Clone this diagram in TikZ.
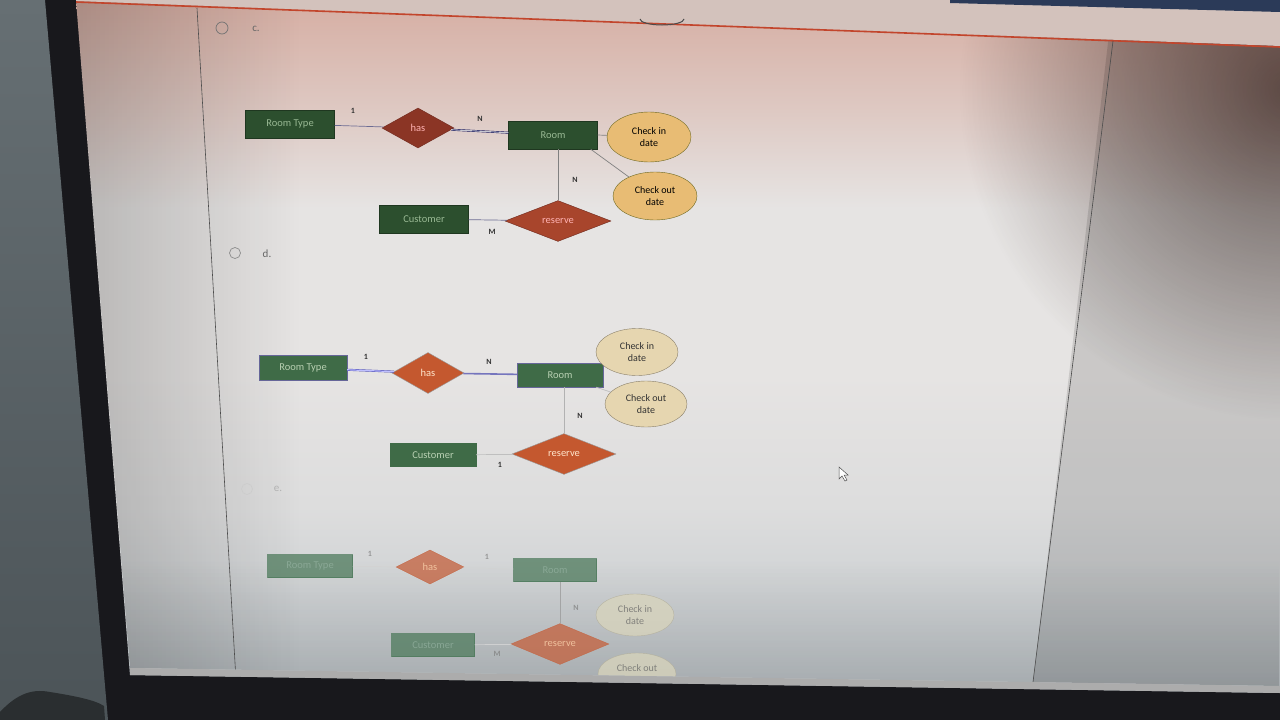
\documentclass[tikz,border=0pt]{standalone}
\usepackage{fontspec}
\setmainfont{Carlito}
\usetikzlibrary{shapes,positioning,fadings}

\definecolor{wallC}{HTML}{666F73}
\definecolor{wallD}{HTML}{4C5458}
\definecolor{bezelC}{HTML}{18181C}
\definecolor{barC}{HTML}{D3C2BC}
\definecolor{blueC}{HTML}{2B3A58}
\definecolor{redC}{HTML}{C2452C}
\definecolor{pageTop}{HTML}{D6AEA3}
\definecolor{pageMid}{HTML}{E6E4E3}
\definecolor{pageBot}{HTML}{BFC6CA}
\colorlet{pageLow}{pageMid!75!pageBot}
\colorlet{pageHigh}{pageMid!50!pageTop}
\definecolor{shadeR}{HTML}{3A2520}
\definecolor{entC}{HTML}{2C4F2E}
\definecolor{entCt}{HTML}{98B893}
\definecolor{entD}{HTML}{3F6B47}
\definecolor{entDt}{HTML}{B8D0B2}
\definecolor{entE}{HTML}{4E7A5C}
\definecolor{entEt}{HTML}{93B09F}
\definecolor{relC}{HTML}{8B3525}
\definecolor{relCr}{HTML}{A8452C}
\definecolor{relD}{HTML}{C4582F}
\definecolor{relE}{HTML}{C4603C}
\definecolor{attC}{HTML}{E8BC74}
\definecolor{attD}{HTML}{E6D6B0}
\definecolor{attE}{HTML}{D9D5BC}

\pgfdeclareverticalshading{pagefade}{100bp}{color(0bp)=(pageBot); color(25bp)=(pageBot);
  color(38bp)=(pageLow); color(48bp)=(pageMid); color(60bp)=(pageMid);
  color(67bp)=(pageHigh); color(75bp)=(pageTop); color(100bp)=(pageTop)}
\tikzfading[name=fade glow, inner color=transparent!0, outer color=transparent!100]
\tikzfading[name=fade down, top color=transparent!100, bottom color=transparent!0]
\tikzfading[name=fade left, left color=transparent!0, right color=transparent!100]

\tikzset{
  basic/.style  = {draw, font=\fontsize{10.5}{11}\selectfont, inner sep=1pt},
  entity/.style = {basic, rectangle, minimum width=89pt, minimum height=28pt},
  rel/.style    = {basic, diamond, minimum width=72pt, minimum height=40pt},
  attr/.style   = {basic, ellipse, align=center, minimum width=84pt,
                   minimum height=50pt, font=\fontsize{10}{12}\selectfont},
  ent c/.style  = {entity, fill=entC, draw=entC!70!black, text=entCt},
  ent d/.style  = {entity, fill=entD, draw=blue!20!gray, text=entDt,
                   minimum width=88pt, minimum height=25pt},
  ent e/.style  = {entity, fill=entE, draw=entE, text=entEt,
                   minimum width=85pt, minimum height=23pt},
  rel c/.style  = {rel, fill=relC, draw=relC!80!black, text=red!30!white},
  rel d/.style  = {rel, fill=relD, draw=gray!80, text=orange!20!white},
  rel e/.style  = {rel, fill=relE, draw=relE, text=orange!30!white},
  att c/.style  = {attr, fill=attC, draw=olive!70!black, text=black},
  att d/.style  = {attr, fill=attD, draw=attD!60!black, text=black!80,
                   minimum width=82pt, minimum height=47pt},
  att e/.style  = {attr, fill=attE, draw=attE!80!black, text=black!60,
                   minimum width=78pt, minimum height=42pt},
  card/.style   = {font=\fontsize{8}{8}\selectfont\bfseries, text=black!80, inner sep=0pt},
  opt/.style    = {font=\fontsize{11}{12}\selectfont, text=black!60, inner sep=0pt},
  link/.style   = {draw=blue!15!gray, line width=0.7pt}
}

\begin{document}
\begin{tikzpicture}[x=1pt,y=-1pt]
\useasboundingbox (0,0) rectangle (1280,720);

% wall, bezel and screen
\fill[bezelC] (0,0) rectangle (1280,720);
\shade[top color=wallC, bottom color=wallD] (0,0) -- (45,0) -- (108,720) -- (0,720) -- cycle;
\fill[black!45!wallD] (0,712) .. controls (15,696) and (30,688) .. (50,692)
  .. controls (75,696) and (95,700) .. (104,706) -- (105,720) -- (0,720) -- cycle;
\shade[shading=pagefade] (76,0) -- (1280,0) -- (1280,693) -- (130,675) -- cycle;
\begin{scope}
\clip (76,0) -- (1280,0) -- (1280,686) -- (130,668) -- cycle;
\fill[shadeR, opacity=.7, path fading=fade glow] (1290,90) circle (330pt);
\fill[black, opacity=.15, path fading=fade down] (76,560) rectangle (1280,700);
\fill[black, opacity=.2, path fading=fade left] (76,0) rectangle (300,700);
\fill[black, opacity=.12] (1113,0) -- (1280,0) -- (1280,697) -- (1032,690) -- cycle;
\fill[barC] (76,0) -- (1280,0) -- (1280,46) -- (76,1) -- cycle;
\fill[blueC] (950,0) -- (1280,0) -- (1280,12) -- (950,3) -- cycle;
\draw[redC, line width=1.6pt] (76,2) -- (1280,47);
\draw[black!70, line width=0.6pt] (197,8) -- (236,680);
\draw[black!70, line width=0.6pt] (1113,41) -- (1032,690);
\draw[black!70, line width=1pt] (640,19) arc[start angle=180, end angle=360, x radius=22pt, y radius=6pt];

% options
\draw[black!55, line width=0.7pt] (222,28) circle (6pt);
\draw[black!45, line width=0.7pt] (235,253) circle (5.5pt);
\draw[black!20, line width=0.7pt] (247,489) circle (5.5pt);
\node[opt] (optc) at (256,29) {c.};
\node[opt] (optd) at (267,254) {d.};
\node[opt, text=black!30] (opte) at (278,489) {e.};

% c. diagram
\node[ent c] (rtc) at (290,124) {Room Type};
\node[rel c, right of=rtc, node distance=128pt, yshift=-4pt] (hasc) {has};
\node[ent c, right of=hasc, node distance=135pt, yshift=-7pt] (roomc) {Room};
\node[att c, right of=roomc, node distance=96pt, yshift=-2pt] (cinc) {Check in\\date};
\node[att c, below of=cinc, node distance=59pt, xshift=6pt, minimum height=48pt] (coutc) {Check out\\date};
\node[rel c, fill=relCr, below of=roomc, node distance=86pt, xshift=5pt,
      minimum width=106pt, minimum height=38pt] (resc) {reserve};
\node[ent c, left of=resc, node distance=134pt, yshift=2pt] (custc) {Customer};

\draw[link] (rtc) -- (hasc);
\draw[double=blue!10!gray!40, draw=blue!30!black, double distance=1.1pt] (hasc) -- (roomc);
\draw[link, draw=gray] (roomc.east) -- (cinc);
\draw[link, draw=gray] ([xshift=-7pt]roomc.south east) -- (coutc);
\draw[link, draw=gray] (roomc.south -| resc.north) -- (resc.north);
\draw[link] (custc) -- (resc);

\node[card] (c1) at (353,111) {1};
\node[card] (c2) at (480,119) {N};
\node[card] (c3) at (575,180) {N};
\node[card] (c4) at (492,232) {M};

% d. diagram
\node[ent d] (rtd) at (303,368) {Room Type};
\node[rel d, right of=rtd, node distance=125pt, yshift=-5pt, minimum height=41pt] (hasd) {has};
\node[ent d, right of=hasd, node distance=132pt, yshift=-2pt, minimum width=86pt, minimum height=24pt] (roomd) {Room};
\node[att d, right of=roomd, node distance=77pt, yshift=23pt] (cind) {Check in\\date};
\node[att d, below of=cind, node distance=52pt, xshift=9pt, minimum height=46pt] (coutd) {Check out\\date};
\node[rel d, below of=roomd, node distance=79pt, xshift=4pt,
      minimum width=104pt, minimum height=36pt] (resd) {reserve};
\node[ent d, left of=resd, node distance=131pt, yshift=-1pt, minimum width=86pt,
      minimum height=23pt, draw=entD] (custd) {Customer};

\draw[double=blue!25!white, draw=blue!40!gray, double distance=1.2pt] (rtd) -- (hasd);
\draw[draw=blue!35!gray!80, line width=1.6pt] (hasd) -- (roomd);
\draw[link, draw=gray!50] (roomd) -- (cind);
\draw[link, draw=gray!50] (roomd) -- (coutd);
\draw[link, draw=gray!60] (roomd.south -| resd.north) -- (resd.north);
\draw[link, draw=gray!50] (custd) -- (resd);

\node[card] (d1) at (366,357) {1};
\node[card] (d2) at (489,362) {N};
\node[card] (d3) at (580,416) {N};
\node[card] (d4) at (500,465) {1};

% e. diagram
\begin{scope}[opacity=.75]
\node[ent e] (rte) at (310,566) {Room Type};
\node[rel e, right of=rte, node distance=120pt, yshift=-1pt, minimum width=68pt, minimum height=34pt] (hase) {has};
\node[ent e, right of=hase, node distance=125pt, yshift=-3pt, minimum width=83pt] (roome) {Room};
\node[att e, right of=roome, node distance=80pt, yshift=-45pt] (cine) {Check in\\date};
\node[att e, below of=cine, node distance=59pt, xshift=2pt] (coute) {Check out\\date};
\node[rel e, below of=roome, node distance=74pt, xshift=5pt,
      minimum width=98pt, minimum height=32pt] (rese) {reserve};
\node[ent e, left of=rese, node distance=127pt, yshift=-1pt, minimum width=83pt] (custe) {Customer};

\draw[link, draw=gray!35] (rte) -- (hase);
\draw[link, draw=gray!35] (hase) -- (roome);
\draw[link, draw=gray!80] (roome.south -| rese.north) -- (rese.north);
\draw[link, draw=gray!30] (custe) -- (rese);

\node[card, text=black!50] (e1) at (370,554) {1};
\node[card, text=black!50] (e2) at (487,557) {1};
\node[card, text=black!50] (e3) at (576,608) {N};
\node[card, text=black!50] (e4) at (497,654) {M};
\end{scope}

% pointer
\filldraw[fill=white, draw=black!70, line width=0.5pt]
  (839,467) -- (839,479) -- (842,476) -- (845,481) -- (847,480) -- (844,475) -- (848,475) -- cycle;
\end{scope}
\fill[gray!65] (130,668) -- (1280,686) -- (1280,693) -- (130,675) -- cycle;
\end{tikzpicture}
\end{document}
